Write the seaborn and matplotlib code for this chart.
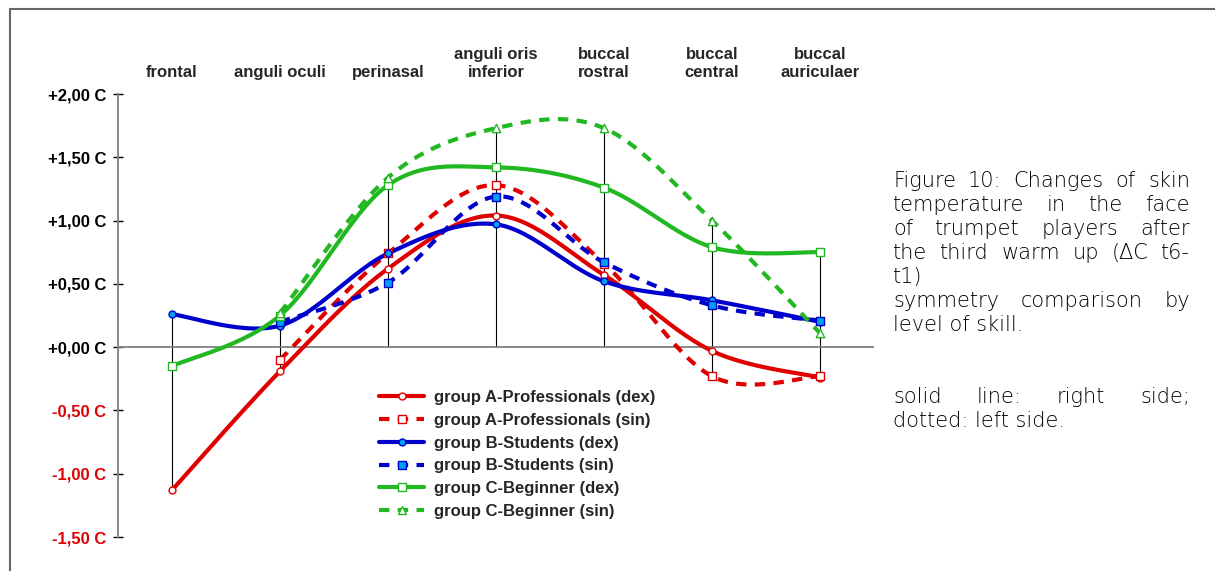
import numpy as np
import pandas as pd
import seaborn as sns
import matplotlib.pyplot as plt
from matplotlib.lines import Line2D
from matplotlib import font_manager

# data (delta C, t6-t1)
categories = ['frontal', 'anguli oculi', 'perinasal', 'anguli oris\ninferior',
              'buccal\nrostral', 'buccal\ncentral', 'buccal\nauriculaer']
a_dex = [-1.13, -0.19, 0.62, 1.04, 0.57, -0.03, -0.24]
a_sin = [np.nan, -0.10, 0.74, 1.28, 0.66, -0.23, -0.23]
b_dex = [0.26, 0.17, 0.74, 0.97, 0.52, 0.37, 0.20]
b_sin = [np.nan, 0.20, 0.51, 1.19, 0.67, 0.33, 0.21]
c_dex = [-0.15, 0.25, 1.28, 1.42, 1.26, 0.79, 0.75]
c_sin = [np.nan, 0.27, 1.34, 1.73, 1.73, 1.00, 0.11]
series_names = ['group A-Professionals (dex)', 'group A-Professionals (sin)',
                'group B-Students (dex)', 'group B-Students (sin)',
                'group C-Beginner (dex)', 'group C-Beginner (sin)']
yticks = [-1.5, -1.0, -0.5, 0.0, 0.5, 1.0, 1.5, 2.0]

red = '#e00000'
blue = '#0000cc'
green = '#22b822'
cyan = '#00a0f0'
dash = (0, (2.5, 2))

styles = [
    dict(color=red, ls='-', marker='o', fc='white', ms=5),
    dict(color=red, ls=dash, marker='s', fc='white', ms=5.5),
    dict(color=blue, ls='-', marker='o', fc=cyan, ms=5),
    dict(color=blue, ls=dash, marker='s', fc=cyan, ms=5.5),
    dict(color=green, ls='-', marker='s', fc='white', ms=5.5),
    dict(color=green, ls=dash, marker='^', fc='white', ms=6),
]

sns.set_style('white')


def pick(names):
    for n in names:
        try:
            font_manager.findfont(n, fallback_to_default=False)
            return n
        except Exception:
            pass
    return 'DejaVu Sans'


sans = pick(['Liberation Sans', 'Arial'])
body = 'DejaVu Sans'
plt.rcParams['font.family'] = [sans, 'DejaVu Sans']


def smooth(xs, ys, n=30):
    # Bezier smoothing like the spreadsheet "smoothed line" option
    pts = np.array([(x, y) for x, y in zip(xs, ys) if not np.isnan(y)], float)
    out = [pts[0]]
    for i in range(len(pts) - 1):
        p0 = pts[max(i - 1, 0)]
        p1 = pts[i]
        p2 = pts[i + 1]
        p3 = pts[min(i + 2, len(pts) - 1)]
        c1 = p1 + (p2 - p0) / 6
        c2 = p2 - (p3 - p1) / 6
        t = np.linspace(0, 1, n)[1:, None]
        seg = ((1 - t) ** 3 * p1 + 3 * (1 - t) ** 2 * t * c1
               + 3 * (1 - t) * t ** 2 * c2 + t ** 3 * p2)
        out.extend(seg)
    out = np.array(out)
    return out[:, 0], out[:, 1]


fig = plt.figure(figsize=(12.15, 5.71), dpi=100)
ax = fig.add_axes([118 / 1215, 1 - 537 / 571, 756 / 1215, 443 / 571])

xpos = np.arange(len(categories))
all_vals = np.array([a_dex, a_sin, b_dex, b_sin, c_dex, c_sin])

# drop lines from the highest to the lowest value (incl. zero line)
lo = np.minimum(np.nanmin(all_vals, axis=0), 0)
hi = np.maximum(np.nanmax(all_vals, axis=0), 0)
ax.vlines(xpos, lo, hi, color='black', lw=0.8, zorder=1)
ax.axhline(0, color='#808080', lw=1.3, zorder=1)

handles = []
for vals, name, st in zip(all_vals, series_names, styles):
    sx, sy = smooth(xpos, vals)
    sns.lineplot(x=sx, y=sy, ax=ax, color=st['color'], lw=3,
                 linestyle=st['ls'], sort=False, estimator=None, zorder=3)
    df = pd.DataFrame({'x': xpos, 'y': vals}).dropna()
    sns.scatterplot(data=df, x='x', y='y', ax=ax, marker=st['marker'],
                    s=st['ms'] ** 2, color=st['fc'], edgecolor=st['color'],
                    linewidth=1, zorder=4)
    handles.append(Line2D([], [], color=st['color'], lw=3, linestyle=st['ls'],
                          marker=st['marker'], mfc=st['fc'], mec=st['color'],
                          ms=st['ms']))

ax.set_xlim(-0.5, 6.5)
ax.set_ylim(-1.5, 2.0)
ax.set_xticks([])
ax.set_yticks(yticks)
ax.set_yticklabels([('%+.2f C' % v).replace('.', ',') for v in yticks])
ax.tick_params(axis='y', direction='inout', length=7, width=1, pad=5,
               labelsize=12, color='black', left=True)
for lbl, v in zip(ax.get_yticklabels(), yticks):
    lbl.set_fontweight('bold')
    lbl.set_color(red if v < 0 else 'black')
ax.set_xlabel('')
ax.set_ylabel('')
for s in ['top', 'right', 'bottom']:
    ax.spines[s].set_visible(False)
ax.spines['left'].set_color('#808080')
ax.spines['left'].set_linewidth(1.3)

# category labels above the plot
for x, c in zip(xpos, categories):
    ax.text(x, 1.038, c, transform=ax.get_xaxis_transform(), ha='center',
            va='baseline', multialignment='center', linespacing=1.25,
            fontsize=12, fontweight='bold')

ax.legend(handles, series_names, loc='upper left',
          bbox_to_anchor=(0.326, 0.366), frameon=False, handlelength=2.7,
          handletextpad=0.55, labelspacing=0.47,
          prop=dict(weight='bold', size=12, family=sans))

# frame of the original figure
fig.add_artist(Line2D([10 / 1215, 10 / 1215], [0, 1 - 9 / 571],
                      transform=fig.transFigure, color='#666666', lw=1.5))
fig.add_artist(Line2D([10 / 1215, 1], [1 - 9 / 571, 1 - 9 / 571],
                      transform=fig.transFigure, color='#666666', lw=1.5))

# caption, justified line by line
caption = [
    ('Figure 10: Changes of skin', 187, True),
    ('temperature in the face', 211, True),
    ('of trumpet players after', 235, True),
    ('the third warm up (\u0394C t6-', 259, True),
    ('t1)', 283, False),
    ('symmetry comparison by', 307, True),
    ('level of skill.', 331, False),
    ('solid line: right side;', 403, True),
    ('dotted: left side.', 427, False),
]
left_px, right_px = 893, 1190
renderer = fig.canvas.get_renderer()
for line, y_px, just in caption:
    words = line.split(' ') if just else [line]
    txts = [fig.text(left_px / 1215, 1 - y_px / 571, w, fontsize=15,
                     color='black', va='baseline', ha='left',
                     fontweight='light', family=[body]) for w in words]
    if just and len(txts) > 1:
        widths = [t.get_window_extent(renderer).width for t in txts]
        gap = (right_px - left_px - sum(widths)) / (len(txts) - 1)
        x = left_px
        for t, w in zip(txts, widths):
            t.set_x(x / 1215)
            x += w + gap

fig.savefig('out.png', dpi=100)
